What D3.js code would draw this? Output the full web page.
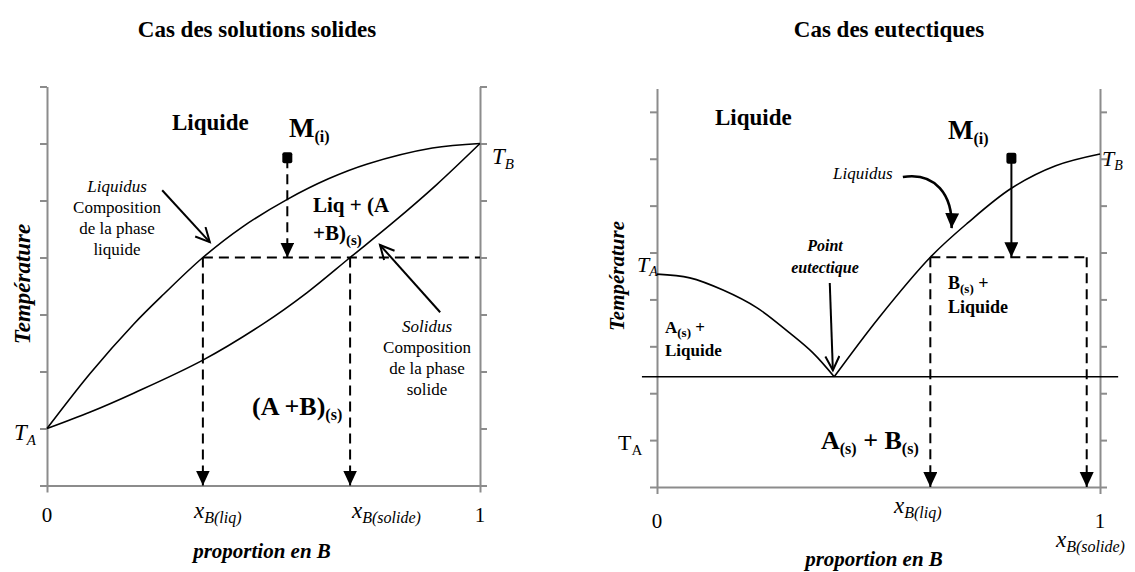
<!DOCTYPE html>
<html lang="fr">
<head>
<meta charset="utf-8">
<title>Diagrammes binaires</title>
<script src="https://cdn.jsdelivr.net/npm/d3@7/dist/d3.min.js"></script>
<style>
  body { margin: 0; background: #fff; }
</style>
</head>
<body>
<div id="viz"></div>
<script>

// ---- Cas des solutions solides : [proportion en B, temperature]
var ssLiquidus = [[0, 1], [0.1, 1.97], [0.2, 2.83], [0.27, 3.36], [0.36, 4.0], [0.45, 4.53],
                  [0.555, 5.02], [0.65, 5.38], [0.74, 5.64], [0.89, 5.92], [1, 6]];
var ssSolidus = [[0, 1], [0.1, 1.29], [0.2, 1.62], [0.36, 2.2], [0.5, 2.84], [0.6, 3.38],
                 [0.7, 4.0], [0.8, 4.62], [0.9, 5.28], [1, 6]];
var ssTempTicks = [0, 1, 2, 3, 4, 5, 6, 7];
var ssXliq = 0.36, ssXsol = 0.70, ssTie = 4;
var ssM = [0.555, 5.74];

// ---- Cas des eutectiques
var euLiqA = [[0, 4.54], [0.074, 4.46], [0.149, 4.2], [0.226, 3.82], [0.30, 3.28], [0.352, 2.86], [0.40, 2.35]];
var euLiqB = [[0.40, 2.35], [0.5, 3.6], [0.617, 4.9], [0.7, 5.62], [0.8, 6.37], [0.9, 6.85], [1, 7.1]];
var euTempTicks = [0, 1, 2, 3, 4, 5, 6, 7, 8];
var euEutectic = 2.35;
var euXliq = 0.617, euXsol = 0.97, euTie = 4.9;
var euM = [0.80, 7.0];

var xTickLabels = ["0", "1"];

var serif = "'Liberation Serif', 'Times New Roman', Times, 'Nimbus Roman', 'DejaVu Serif', serif";

var svg = d3.select("#viz").append("svg")
  .attr("width", 1135).attr("height", 572)
  .attr("font-family", serif)
  .style("font-family", serif);

// markers
var defs = svg.append("defs");
defs.append("marker").attr("id", "fill").attr("markerUnits", "userSpaceOnUse")
  .attr("markerWidth", 16).attr("markerHeight", 16).attr("refX", 15).attr("refY", 7)
  .attr("orient", "auto")
  .append("path").attr("d", "M0,0 L15,7 L0,14 Z").attr("fill", "#000");
defs.append("marker").attr("id", "open").attr("markerUnits", "userSpaceOnUse")
  .attr("markerWidth", 20).attr("markerHeight", 20).attr("refX", 15).attr("refY", 8)
  .attr("orient", "auto")
  .append("path").attr("d", "M1,1 L15,8 L1,15").attr("fill", "none")
  .attr("stroke", "#000").attr("stroke-width", 2);

var line = d3.line().curve(d3.curveCatmullRom.alpha(0.5));

// small helper for text with subscripts
function rich(x, y, parts, size, weight, style, anchor) {
  var t = svg.append("text").attr("x", x).attr("y", y)
    .attr("font-family", serif)
    .attr("font-size", size).attr("font-weight", weight || "normal")
    .attr("font-style", style || "normal")
    .attr("text-anchor", anchor || "start");
  parts.forEach(function(p) {
    var ts = t.append("tspan").text(p[0]);
    if (p[1]) ts.attr("font-size", p[1]).attr("baseline-shift", "-30%");
  });
  return t;
}

function block(x, y0, lines, size, step) {
  lines.forEach(function(l, i) {
    svg.append("text").attr("x", x).attr("y", y0 + i * step)
      .attr("font-family", serif)
      .attr("text-anchor", "middle").attr("font-size", size)
      .attr("font-style", l[1] ? "italic" : "normal")
      .text(l[0]);
  });
}

function axes(x, y, ticks) {
  var g = svg.append("g").attr("class", "axes");
  g.append("g").attr("transform", "translate(" + x(0) + ",0)")
    .call(d3.axisLeft(y).tickValues(ticks).tickSize(7).tickSizeOuter(0).tickFormat(""));
  g.append("g").attr("transform", "translate(" + x(1) + ",0)")
    .call(d3.axisRight(y).tickValues(ticks).tickSize(7).tickSizeOuter(0).tickFormat(""));
  g.append("g").attr("transform", "translate(0," + y(0) + ")")
    .call(d3.axisBottom(x).tickValues([0, 1]).tickSize(7).tickSizeOuter(0).tickFormat(""));
  g.selectAll("path, line").attr("stroke", "#8c8c8c").attr("stroke-width", 2);
}

function seg(x, y, a, b, dashed, marker, width) {
  svg.append("line")
    .attr("x1", x(a[0])).attr("y1", y(a[1]))
    .attr("x2", x(b[0])).attr("y2", y(b[1]))
    .attr("stroke", "#000").attr("stroke-width", width || 2)
    .attr("stroke-dasharray", dashed ? "10,6" : null)
    .attr("marker-end", marker ? "url(#" + marker + ")" : null);
}

function curve(x, y, pts) {
  svg.append("path")
    .attr("d", line(pts.map(function(d) { return [x(d[0]), y(d[1])]; })))
    .attr("fill", "none").attr("stroke", "#000").attr("stroke-width", 1.6);
}

function pointM(x, y, m) {
  svg.append("rect").attr("x", x(m[0]) - 5).attr("y", y(m[1]) - 6)
    .attr("width", 10).attr("height", 11).attr("rx", 2).attr("fill", "#000");
}

// ================= Cas des solutions solides =================
var x1 = d3.scaleLinear().domain([0, 1]).range([47, 480]);
var y1 = d3.scaleLinear().domain([0, 7]).range([485.5, 86.5]);

axes(x1, y1, ssTempTicks);
curve(x1, y1, ssLiquidus);
curve(x1, y1, ssSolidus);

seg(x1, y1, [ssXliq, ssTie], [1, ssTie], true);
seg(x1, y1, [ssM[0], ssM[1]], [ssM[0], ssTie], true, "fill");
seg(x1, y1, [ssXliq, ssTie], [ssXliq, 0], true, "fill");
seg(x1, y1, [ssXsol, ssTie], [ssXsol, 0], true, "fill");
pointM(x1, y1, ssM);

// annotation arrows
seg(x1, y1, [0.266, 5.18], [0.376, 4.27], false, "open");
seg(x1, y1, [0.908, 3.04], [0.769, 4.22], false, "open");

rich(257, 37, [["Cas des solutions solides"]], 23, "bold", "normal", "middle");
rich(172, 130, [["Liquide"]], 23, "bold");
rich(289, 137, [["M"], ["(i)", 16]], 27, "bold");
block(117, 192, [["Liquidus", true], ["Composition"], ["de la phase"], ["liquide"]], 17, 21);
rich(313, 212, [["Liq + (A"]], 21, "bold");
rich(313, 240, [["+B)"], ["(s)", 15]], 21, "bold");
block(427, 332, [["Solidus", true], ["Composition"], ["de la phase"], ["solide"]], 17, 21);
rich(252, 415, [["(A +B)"], ["(s)", 16]], 26, "bold");
rich(14, 440, [["T"], ["A", 15]], 23, "normal", "italic");
rich(492, 164, [["T"], ["B", 15]], 23, "normal", "italic");
xTickLabels.forEach(function(l, i) {
  rich(x1(i), 522, [[l]], 21, "normal", "normal", "middle");
});
rich(194, 518, [["x"], ["B(liq)", 16]], 23, "normal", "italic");
rich(352, 518, [["x"], ["B(solide)", 16]], 23, "normal", "italic");
rich(262, 558, [["proportion en B"]], 21, "bold", "italic", "middle");
svg.append("text").attr("transform", "translate(30,284) rotate(-90)")
  .attr("font-family", serif)
  .attr("text-anchor", "middle").attr("font-size", 23).attr("font-weight", "bold")
  .attr("font-style", "italic").text("Température");

// ================= Cas des eutectiques =================
var x2 = d3.scaleLinear().domain([0, 1]).range([657, 1100]);
var y2 = d3.scaleLinear().domain([0, 8.5]).range([487, 88.4]);

axes(x2, y2, euTempTicks);
curve(x2, y2, euLiqA);
curve(x2, y2, euLiqB);

// palier eutectique
svg.append("line")
  .attr("x1", x2(-0.034)).attr("x2", x2(1.041))
  .attr("y1", y2(euEutectic)).attr("y2", y2(euEutectic))
  .attr("stroke", "#000").attr("stroke-width", 1.6);

seg(x2, y2, [euXliq, euTie], [euXsol, euTie], true);
seg(x2, y2, [euM[0], euM[1]], [euM[0], euTie], false, "fill");
seg(x2, y2, [euXliq, euTie], [euXliq, 0], true, "fill");
seg(x2, y2, [euXsol, euTie], [euXsol, 0], true, "fill");
pointM(x2, y2, euM);

// point eutectique arrow
seg(x2, y2, [0.39, 4.35], [0.397, 2.49], false, "open");

// liquidus curved arrow
var cp = [[0.555, 6.61], [0.628, 6.72], [0.668, 6.23], [0.665, 5.52]].map(function(d) {
  return [x2(d[0]), y2(d[1])];
});
var p = d3.path();
p.moveTo(cp[0][0], cp[0][1]);
p.bezierCurveTo(cp[1][0], cp[1][1], cp[2][0], cp[2][1], cp[3][0], cp[3][1]);
svg.append("path").attr("d", p.toString()).attr("fill", "none")
  .attr("stroke", "#000").attr("stroke-width", 2.6).attr("marker-end", "url(#fill)");

rich(889, 37, [["Cas des eutectiques"]], 23, "bold", "normal", "middle");
rich(715, 125, [["Liquide"]], 23, "bold");
rich(948, 139, [["M"], ["(i)", 16]], 27, "bold");
rich(833, 179, [["Liquidus"]], 17, "normal", "italic");
rich(825, 251, [["Point"]], 16, "bold", "italic", "middle");
rich(825, 273, [["eutectique"]], 16, "bold", "italic", "middle");
rich(948, 289, [["B"], ["(s)", 13], ["  +"]], 18, "bold");
rich(948, 313, [["Liquide"]], 18, "bold");
rich(665, 333, [["A"], ["(s)", 13], [" +"]], 17, "bold");
rich(665, 356, [["Liquide"]], 17, "bold");
rich(637, 272, [["T"], ["A", 14]], 22, "normal", "italic");
rich(1102, 166, [["T"], ["B", 14]], 22, "normal", "italic");
rich(618, 450, [["T"], ["A", 15]], 22, "normal");
rich(821, 449, [["A"], ["(s)", 16], ["  + B"], ["(s)", 16]], 26, "bold");
xTickLabels.forEach(function(l, i) {
  rich(x2(i), 528, [[l]], 21, "normal", "normal", "middle");
});
rich(894, 513, [["x"], ["B(liq)", 16]], 23, "normal", "italic");
rich(1056, 547, [["x"], ["B(solide)", 16]], 23, "normal", "italic");
rich(874, 566, [["proportion en B"]], 21, "bold", "italic", "middle");
svg.append("text").attr("transform", "translate(624,276) rotate(-90)")
  .attr("font-family", serif)
  .attr("text-anchor", "middle").attr("font-size", 21).attr("font-weight", "bold")
  .attr("font-style", "italic").text("Température");

</script>
</body>
</html>
